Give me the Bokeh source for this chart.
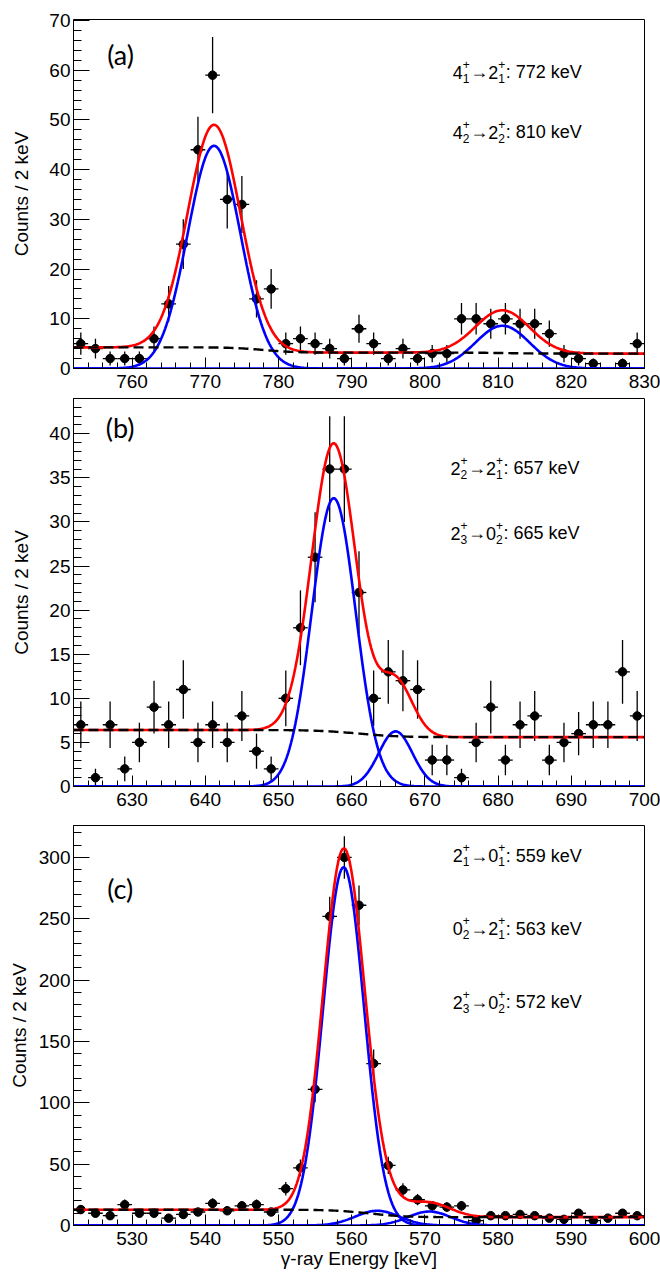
import math
import numpy as np
from bokeh.plotting import figure
from bokeh.models import ColumnDataSource, FixedTicker, Range1d
from bokeh.layouts import column
from bokeh.embed import file_html
from bokeh.resources import INLINE
from bokeh.core.properties import value

# ---------------- data (2 keV bins) ----------------
a_energy = [753, 755, 757, 759, 761, 763, 765, 767, 769, 771, 773, 775, 777, 779, 781, 783, 785, 787, 789, 791,
            793, 795, 797, 799, 801, 803, 805, 807, 809, 811, 813, 815, 817, 819, 821, 823, 825, 827, 829]
a_counts = [5, 4, 2, 2, 2, 6, 13, 25, 44, 59, 34, 33, 14, 16, 5, 6, 5, 4, 2, 8,
            5, 2, 4, 2, 3, 3, 10, 10, 9, 10, 9, 9, 7, 3, 2, 1, 0, 1, 5]

b_energy = [623, 625, 627, 629, 631, 633, 635, 637, 639, 641, 643, 645, 647, 649, 651, 653, 655, 657, 659, 661,
            663, 665, 667, 669, 671, 673, 675, 677, 679, 681, 683, 685, 687, 689, 691, 693, 695, 697, 699]
b_counts = [7, 1, 7, 2, 5, 9, 7, 11, 5, 7, 5, 8, 4, 2, 10, 18, 26, 36, 36, 22,
            10, 13, 12, 11, 3, 3, 1, 5, 9, 3, 7, 8, 3, 5, 6, 7, 7, 13, 8]

c_energy = [523, 525, 527, 529, 531, 533, 535, 537, 539, 541, 543, 545, 547, 549, 551, 553, 555, 557, 559, 561,
            563, 565, 567, 569, 571, 573, 575, 577, 579, 581, 583, 585, 587, 589, 591, 593, 595, 597, 599]
c_counts = [13, 10, 8, 17, 10, 10, 6, 9, 11, 18, 12, 16, 17, 11, 30, 47, 111, 252, 300, 261,
            132, 49, 29, 21, 16, 15, 16, 4, 8, 8, 9, 8, 6, 5, 10, 4, 6, 10, 8]

# ---------------- fit parameters ----------------
a_peak_mu = [771.2, 810.6]
a_peak_sigma = [3.6, 3.7]
a_peak_amp = [44.8, 8.6]
a_bg_base = 3.0
a_step_mu = [778.0, 811.0]
a_step_w = [3.5, 3.7]
a_step_h = [1.05, 0.2]

b_peak_mu = [657.55, 666.0]
b_peak_sigma = [3.0, 2.3]
b_peak_amp = [32.7, 6.25]
b_bg_base = 5.6
b_step_mu = [661.0]
b_step_w = [4.5]
b_step_h = [0.8]

c_peak_mu = [558.9, 563.5, 570.6]
c_peak_sigma = [2.8, 3.0, 2.9]
c_peak_amp = [292.0, 12.0, 11.4]
c_bg_base = 6.8
c_step_mu = [562.5]
c_step_w = [4.0]
c_step_h = [6.0]

# ---------------- texts ----------------
panel_names = ["(a)", "(b)", "(c)"]
a_lines = [["4", "1", "+", "2", "1", "+", "772"], ["4", "2", "+", "2", "2", "+", "810"]]
b_lines = [["2", "2", "+", "2", "1", "+", "657"], ["2", "3", "+", "0", "2", "+", "665"]]
c_lines = [["2", "1", "+", "0", "1", "+", "559"], ["0", "2", "+", "2", "1", "+", "563"],
           ["2", "3", "+", "0", "2", "+", "572"]]
y_title = "Counts / 2 keV"
x_title = "\u03b3-ray Energy [keV]"

FONT = "Liberation Sans"
TICK = "19px"
BIG = "18px"
SMALL = "12px"


def gauss(x, mu, sig, amp):
    return amp * np.exp(-0.5 * ((x - mu) / sig) ** 2)


def background(x, base, smu, sw, sh):
    out = np.full_like(x, base, dtype=float)
    for m, w, h in zip(smu, sw, sh):
        out += h * 0.5 * np.array([math.erfc((xi - m) / (math.sqrt(2) * w)) for xi in x])
    return out


def make_panel(xr, yr, height, top, bottom, xticks, yticks, ydelta, energy, counts,
               mus, sigs, amps, bgb, smu, sw, sh, name, name_xy, lines, ann_x, ann_y,
               ylab_standoff, show_xtitle):
    p = figure(width=660, height=height, x_range=Range1d(*xr), y_range=Range1d(*yr),
               output_backend="svg", toolbar_location=None,
               min_border_left=73, min_border_right=16, min_border_top=top, min_border_bottom=bottom)
    p.xgrid.visible = False
    p.ygrid.visible = False
    p.outline_line_color = "black"
    p.outline_line_alpha = 1.0
    p.outline_line_width = 1
    p.background_fill_color = "white"
    p.border_fill_color = "white"

    xa = p.xaxis[0]
    xa.ticker = FixedTicker(ticks=xticks, minor_ticks=list(np.arange(xr[0], xr[1] + 0.01, 2.0)))
    xa.major_tick_in = 11
    xa.major_tick_out = 0
    xa.minor_tick_in = 6
    xa.minor_tick_out = 0
    xa.major_label_text_font = FONT
    xa.major_label_text_font_size = TICK
    xa.major_label_text_color = "black"
    xa.major_label_standoff = 6
    xa.axis_line_color = "black"
    xa.major_tick_line_color = "black"
    xa.minor_tick_line_color = "black"
    if show_xtitle:
        xa.axis_label = x_title
        xa.axis_label_text_font = FONT
        xa.axis_label_text_font_size = "19px"
        xa.axis_label_text_font_style = "normal"
        xa.axis_label_text_color = "black"
        xa.axis_label_standoff = 0

    ya = p.yaxis[0]
    ya.ticker = FixedTicker(ticks=yticks, minor_ticks=list(np.arange(0, yr[1] + 0.01, ydelta)))
    ya.major_tick_in = 16
    ya.major_tick_out = 0
    ya.minor_tick_in = 8
    ya.minor_tick_out = 0
    ya.major_label_text_font = FONT
    ya.major_label_text_font_size = TICK
    ya.major_label_text_color = "black"
    ya.major_label_standoff = 3
    ya.axis_line_color = "black"
    ya.major_tick_line_color = "black"
    ya.minor_tick_line_color = "black"
    ya.axis_label = y_title
    ya.axis_label_text_font = FONT
    ya.axis_label_text_font_size = "19px"
    ya.axis_label_text_font_style = "normal"
    ya.axis_label_text_color = "black"
    ya.axis_label_standoff = ylab_standoff

    # data points with sqrt(N) errors (empty bins are not drawn)
    e = np.array(energy, dtype=float)
    c = np.array(counts, dtype=float)
    keep = c > 0
    e, c = e[keep], c[keep]
    err = np.sqrt(c)
    src = ColumnDataSource(dict(x=e, y=c, x0=e - 1.0, x1=e + 1.0, y0=c - err, y1=c + err))
    p.segment(x0="x", y0="y0", x1="x", y1="y1", source=src, line_color="black", line_width=1.3)
    p.segment(x0="x0", y0="y", x1="x1", y1="y", source=src, line_color="black", line_width=1.3)
    p.scatter(x="x", y="y", source=src, marker="circle", size=8.5, fill_color="black", line_color="black")

    # fit curves
    xx = np.linspace(xr[0], xr[1], 400)
    bg = background(xx, bgb, smu, sw, sh)
    total = bg.copy()
    for m, s, a in zip(mus, sigs, amps):
        g = gauss(xx, m, s, a)
        total += g
        p.line(xx, g, line_color="#0000ff", line_width=2.6)
    p.line(xx, total, line_color="#ff0000", line_width=2.6)
    p.line(xx, bg, line_color="black", line_width=2.4, line_dash="10 5")

    # panel tag
    p.text(x=[name_xy[0]], y=[name_xy[1]], text=[name], text_font=value("Lato"), text_font_size="27px",
           text_baseline="middle", text_align="left", text_color="black")

    # transition annotations (stacked sub/superscripts)
    tx, ty, tt, xo, yo, fs = [], [], [], [], [], []
    for parts, yy in zip(lines, ann_y):
        b1, s1, u1, b2, s2, u2, en = parts
        pieces = [(b1, 0, 0, BIG), (s1, 10, 6, SMALL), (u1, 10, -8, SMALL), ("\u2192", 17.5, 0, BIG),
                  (b2, 35.5, 0, BIG), (s2, 45.5, 6, SMALL), (u2, 45.5, -8, SMALL),
                  (": " + en + " keV", 53, 0, BIG)]
        for t, dx, dy, f in pieces:
            tx.append(ann_x)
            ty.append(yy)
            tt.append(t)
            xo.append(dx)
            yo.append(dy)
            fs.append(f)
    asrc = ColumnDataSource(dict(x=tx, y=ty, text=tt, xo=xo, yo=yo, fs=fs))
    p.text(x="x", y="y", text="text", x_offset="xo", y_offset="yo", text_font_size="fs",
           text_font=value(FONT), text_baseline="alphabetic", text_align="left", text_color="black",
           source=asrc)
    return p


pa = make_panel((752, 830), (0, 70.2), 397, 19, 29, [760, 770, 780, 790, 800, 810, 820, 830],
                [0, 10, 20, 30, 40, 50, 60, 70], 2, a_energy, a_counts,
                a_peak_mu, a_peak_sigma, a_peak_amp, a_bg_base, a_step_mu, a_step_w, a_step_h,
                panel_names[0], (756.6, 63.2), a_lines, 803.8, [59.6, 47.5], 14, False)

pb = make_panel((622, 700), (0, 44.0), 418, 1, 29, [630, 640, 650, 660, 670, 680, 690, 700],
                [0, 5, 10, 15, 20, 25, 30, 35, 40], 1, b_energy, b_counts,
                b_peak_mu, b_peak_sigma, b_peak_amp, b_bg_base, b_step_mu, b_step_w, b_step_h,
                panel_names[1], (626.4, 40.7), b_lines, 673.5, [36.1, 28.7], 14, False)

pc = make_panel((522, 600), (0, 326), 458, 10, 48, [530, 540, 550, 560, 570, 580, 590, 600],
                [0, 50, 100, 150, 200, 250, 300], 10, c_energy, c_counts,
                c_peak_mu, c_peak_sigma, c_peak_amp, c_bg_base, c_step_mu, c_step_w, c_step_h,
                panel_names[2], (526.6, 275.0), c_lines, 573.8, [301.5, 241.8, 182.0], 6, True)

layout = column(pa, pb, pc, spacing=0)
open("out.html", "w").write(file_html(layout, INLINE))
